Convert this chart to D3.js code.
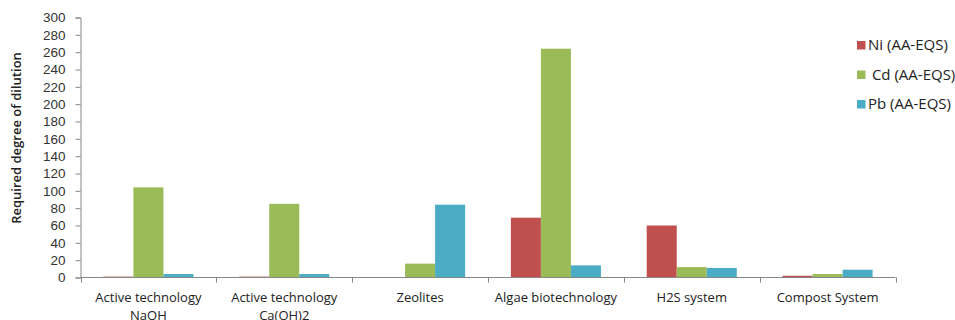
<!DOCTYPE html>
<html>
<head>
<meta charset="utf-8">
<script src="https://cdn.jsdelivr.net/npm/d3@7"></script>
<style>
  html, body { margin: 0; padding: 0; background: #fff; overflow: hidden; }
  svg { display: block; font-family: "Open Sans", Lato, sans-serif; }
</style>
</head>
<body>
<svg id="chart" width="955" height="320"></svg>
<script>
// Treatment systems (x categories); "\n" splits a label over two lines
const categories = [
  "Active technology\nNaOH",
  "Active technology\nCa(OH)2",
  "Zeolites",
  "Algae biotechnology",
  "H2S system",
  "Compost System"
];
const seriesNames = ["Ni (AA-EQS)", " Cd (AA-EQS)", "Pb (AA-EQS)"];
const niValues = [1, 1, 0, 69, 60, 2];
const cdValues = [104, 85, 16, 264, 12, 4];
const pbValues = [4, 4, 84, 14, 11, 9];
const yTicks = [0, 20, 40, 60, 80, 100, 120, 140, 160, 180, 200, 220, 240, 260, 280, 300];
const colors = ["#C0504D", "#9BBB59", "#4BACC6"];
const yTitle = "Required degree of dilution";

const series = [niValues, cdValues, pbValues];

const svg = d3.select("#chart");
const plotLeft = 80.5, plotRight = 895.5, plotTop = 17.5, plotBottom = 277.5;

const x = d3.scaleBand().domain(categories).range([plotLeft, plotRight]).paddingInner(0.337).paddingOuter(0.1685);
const xInner = d3.scaleBand().domain(d3.range(series.length)).range([0, x.bandwidth()]);
const y = d3.scaleLinear().domain([0, 300]).range([plotBottom, plotTop]);

// Bars
series.forEach((vals, si) => {
  svg.append("g")
    .selectAll("rect")
    .data(vals)
    .join("rect")
    .attr("x", (d, i) => x(categories[i]) + xInner(si))
    .attr("width", xInner.bandwidth())
    .attr("y", d => y(d))
    .attr("height", d => y(0) - y(d))
    .attr("fill", colors[si]);
});

// Y axis
const yAxis = svg.append("g")
  .attr("transform", `translate(${plotLeft},0)`)
  .call(d3.axisLeft(y).tickValues(yTicks).tickSize(5).tickPadding(10));
yAxis.select(".domain").attr("stroke", "#868686");
yAxis.selectAll(".tick line").attr("stroke", "#868686");
yAxis.selectAll(".tick text").attr("fill", "#333").style("font-size", "13.5px");

// X axis with ticks on category boundaries
const step = (plotRight - plotLeft) / categories.length;
svg.append("line")
  .attr("x1", plotLeft).attr("x2", plotRight)
  .attr("y1", plotBottom).attr("y2", plotBottom)
  .attr("stroke", "#868686");
svg.append("g")
  .selectAll("line")
  .data(d3.range(categories.length + 1))
  .join("line")
  .attr("x1", i => Math.round(plotLeft + i * step) + 0.5)
  .attr("x2", i => Math.round(plotLeft + i * step) + 0.5)
  .attr("y1", plotBottom).attr("y2", plotBottom + 5)
  .attr("stroke", "#868686");

// Category labels
svg.append("g")
  .selectAll("text")
  .data(categories)
  .join("text")
  .attr("x", d => x(d) + x.bandwidth() / 2)
  .attr("y", 302)
  .attr("text-anchor", "middle")
  .attr("fill", "#222")
  .style("font-size", "13px")
  .each(function(d) {
    const lines = d.split("\n");
    d3.select(this).selectAll("tspan")
      .data(lines)
      .join("tspan")
      .attr("x", x(d) + x.bandwidth() / 2)
      .attr("dy", (l, i) => i === 0 ? 0 : 18)
      .text(l => l);
  });

// Y axis title
svg.append("text")
  .attr("transform", `translate(21,138) rotate(-90)`)
  .attr("text-anchor", "middle")
  .attr("fill", "#222")
  .style("font-size", "13px")
  .style("font-weight", "600")
  .text(yTitle);

// Legend
const legend = svg.append("g");
seriesNames.forEach((name, i) => {
  const ly = 45 + i * 29.5;
  legend.append("rect")
    .attr("x", 857).attr("y", ly - 4)
    .attr("width", 8.5).attr("height", 8.5)
    .attr("fill", colors[i]);
  legend.append("text")
    .attr("x", 868).attr("y", ly + 5)
    .attr("fill", "#222")
    .style("font-size", "15px")
    .style("white-space", "pre")
    .text(name);
});
</script>
</body>
</html>
